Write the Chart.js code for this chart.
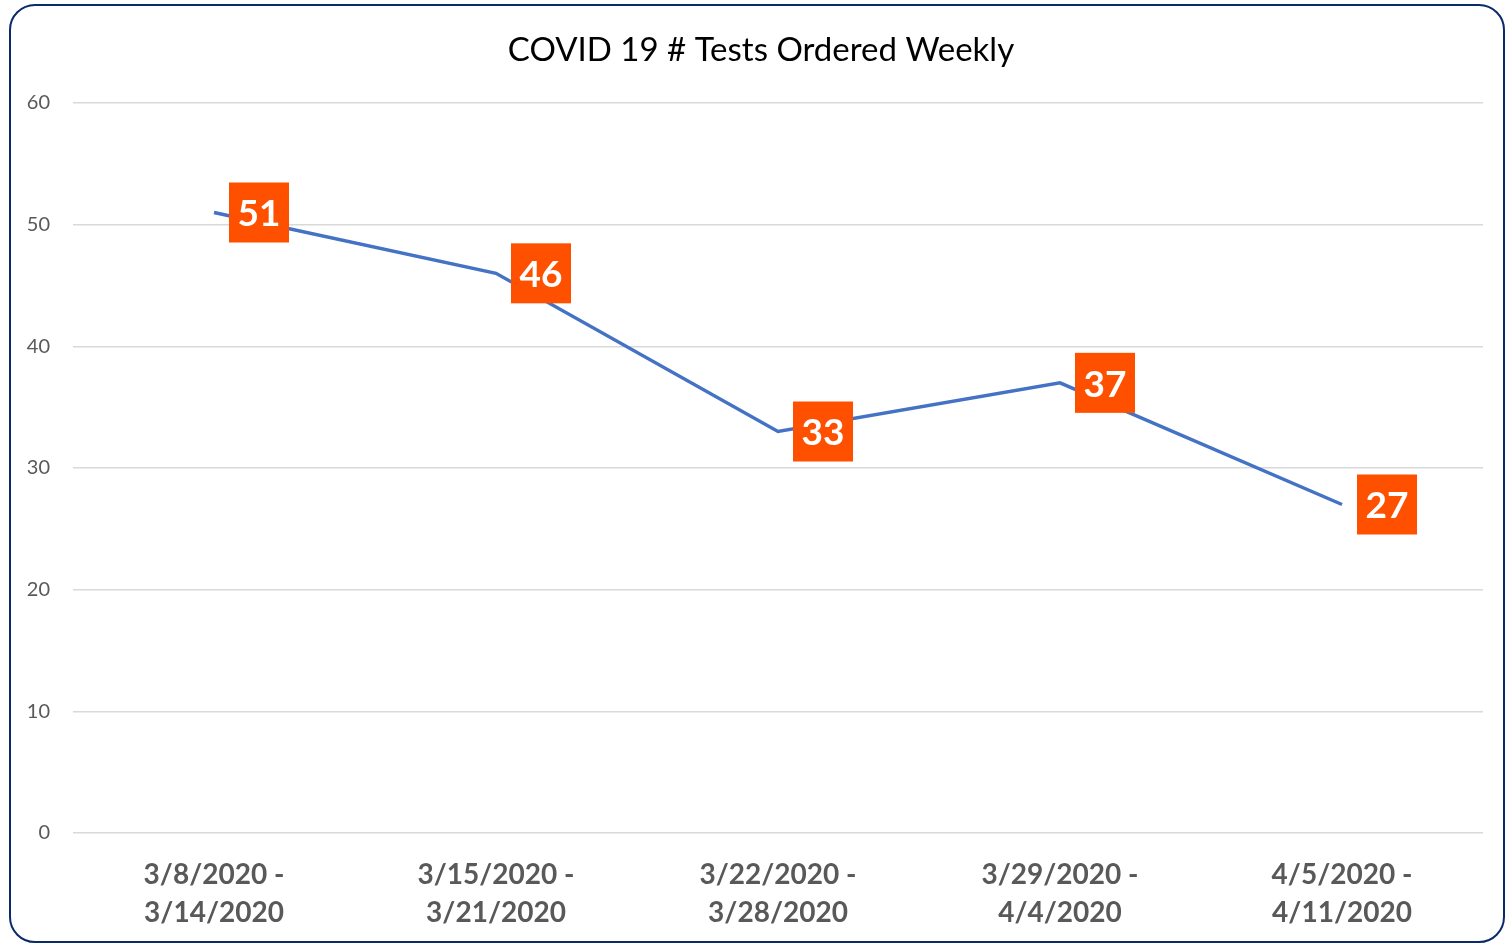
<!DOCTYPE html>
<html>
<head>
<meta charset="utf-8">
<script src="https://cdn.jsdelivr.net/npm/chart.js@4"></script>
<style>
  html, body { margin: 0; padding: 0; background: #fff; }
  #wrap { position: relative; width: 1505px; height: 945px; overflow: hidden; }
  #frame {
    position: absolute; left: 9px; top: 4px; width: 1492px; height: 935px;
    border: 2px solid #0b2a6b; border-radius: 26px; pointer-events: none;
  }
  canvas { position: absolute; left: 0; top: 0; }
</style>
</head>
<body>
<div id="wrap">
  <canvas id="testsChart" width="1505" height="945"></canvas>
  <div id="frame"></div>
</div>
<script>
const chartTitle = 'COVID 19 # Tests Ordered Weekly';
const weeks = [
  ['3/8/2020 -', '3/14/2020'],
  ['3/15/2020 -', '3/21/2020'],
  ['3/22/2020 -', '3/28/2020'],
  ['3/29/2020 -', '4/4/2020'],
  ['4/5/2020 -', '4/11/2020']
];
const testsOrdered = [51, 46, 33, 37, 27];
const yTicks = [0, 10, 20, 30, 40, 50, 60];

const fontFamily = 'Lato, "Open Sans", sans-serif';

// title centred on the framed box, not on the plot
const titleText = {
  id: 'titleText',
  afterDraw(chart) {
    const c = chart.ctx;
    c.save();
    c.font = '33px ' + fontFamily;
    c.fillStyle = '#000000';
    c.textAlign = 'center';
    c.textBaseline = 'middle';
    c.fillText(chartTitle, 761, 50);
    c.restore();
  }
};

// orange boxes with the value, to the right of each point
const valueBoxes = {
  id: 'valueBoxes',
  afterDatasetsDraw(chart) {
    const c = chart.ctx;
    const meta = chart.getDatasetMeta(0);
    c.save();
    c.font = 'bold 37px ' + fontFamily;
    c.textAlign = 'center';
    c.textBaseline = 'middle';
    meta.data.forEach((pt, i) => {
      const cx = pt.x + 45, cy = pt.y;
      c.fillStyle = '#ff5000';
      c.fillRect(cx - 30, cy - 30, 60, 60);
      c.fillStyle = '#ffffff';
      c.fillText(String(testsOrdered[i]), cx, cy + 2);
    });
    c.restore();
  }
};

const ctx = document.getElementById('testsChart').getContext('2d');

const testsChart = new Chart(ctx, {
  type: 'line',
  data: {
    labels: weeks,
    datasets: [{
      label: '# Tests Ordered',
      data: testsOrdered,
      borderColor: '#4472c4',
      borderWidth: 3.5,
      pointRadius: 0,
      tension: 0,
      fill: false
    }]
  },
  options: {
    responsive: false,
    animation: false,
    layout: { padding: { left: 0, right: 22, top: 103, bottom: 0 } },
    scales: {
      x: {
        offset: true,
        grid: { display: false, drawTicks: false },
        border: { display: false },
        ticks: {
          color: '#595959',
          padding: 23,
          maxRotation: 0,
          font: { family: fontFamily, size: 28, weight: 'bold', lineHeight: 1.36 }
        },
        afterFit(scale) { scale.height = 112; }
      },
      y: {
        min: 0,
        max: 60,
        afterBuildTicks(scale) { scale.ticks = yTicks.map(v => ({ value: v })); },
        grid: { color: '#d9d9d9', lineWidth: 1.5, drawTicks: false },
        border: { display: false },
        ticks: {
          color: '#595959',
          padding: 23,
          font: { family: fontFamily, size: 20 }
        },
        afterFit(scale) { scale.width = 73; }
      }
    },
    plugins: {
      legend: { display: false },
      tooltip: { enabled: false },
      title: { display: false }
    }
  },
  plugins: [valueBoxes, titleText]
});
</script>
</body>
</html>
